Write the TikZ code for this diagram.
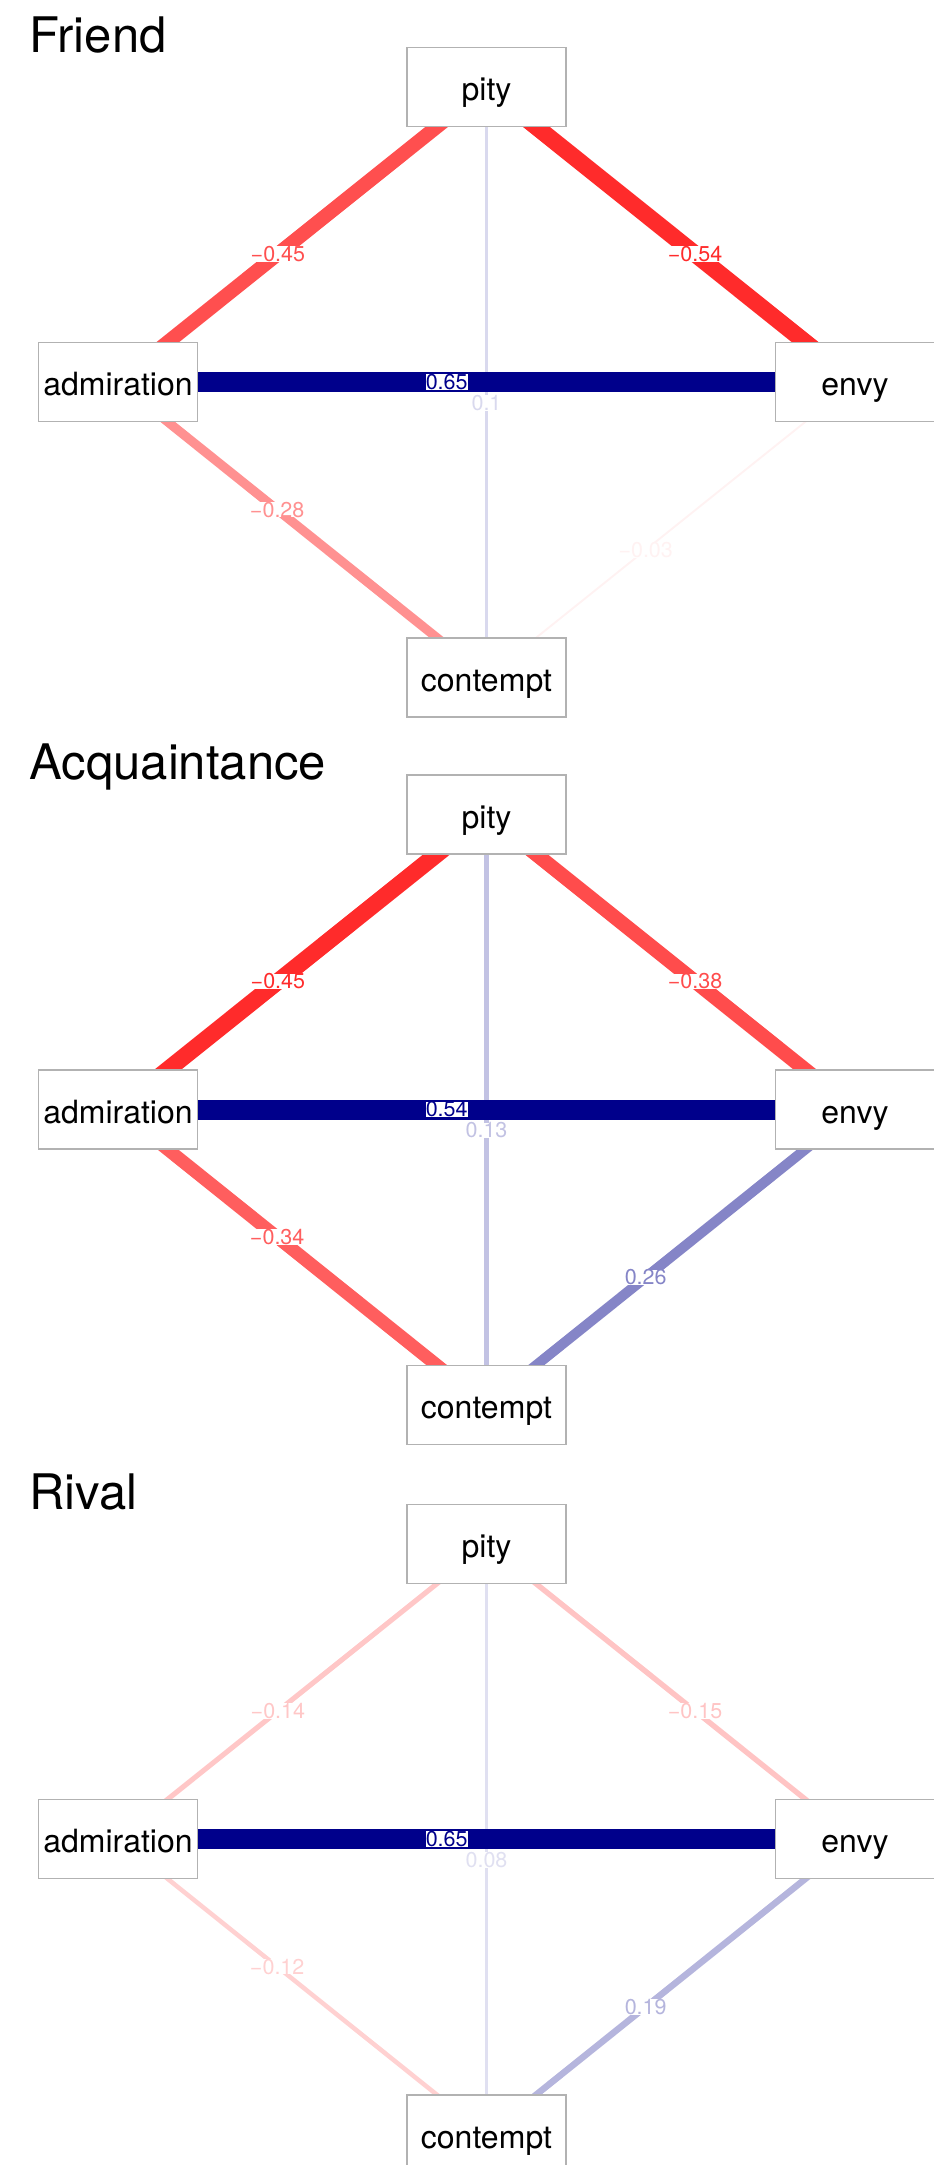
\documentclass[tikz,border=0pt]{standalone}
\usepackage{fontspec}
\setmainfont{TeX Gyre Heros}
\usetikzlibrary{backgrounds}
\definecolor{posblue}{RGB}{0,0,139}
\definecolor{negred}{RGB}{255,0,0}
\definecolor{frame}{RGB}{178,178,178}
\tikzset{
  box/.style={draw=frame,fill=white,line width=0.6pt,minimum width=79.5pt,minimum height=39.5pt,
    inner sep=0pt,font=\fontsize{16}{18}\selectfont,text height=13.5pt,text depth=0pt},
  heading/.style={anchor=base west,inner sep=0pt,font=\fontsize{24.5}{28}\selectfont},
  tie/.style 2 args={draw=#1,line width=#2},
  tag/.style={fill=white,inner sep=0pt,text=#1,font=\fontsize{10.75}{12}\selectfont},
}

\begin{document}
\begin{tikzpicture}[x=0.5pt,y=-0.5pt]
  \useasboundingbox (0,0) rectangle (933,2165);
  % one panel per relation
  \foreach \p/\off/\ttl in {f/0/Friend,a/727.5/Acquaintance,r/1457/Rival}{
    \node[heading] (\p-title) at (29,52+\off) {\ttl};
    \node[box] (\p-pity) at (486.5,87+\off) {pity};
    \node[box] (\p-adm) at (118,382+\off) {admiration};
    \node[box] (\p-envy) at (855,382+\off) {envy};
    \node[box] (\p-con) at (486.5,677.5+\off) {contempt};
  }
  % weighted ties, weakest first
  \begin{scope}[on background layer]
    \foreach \p/\src/\dst/\ecol/\lw/\fr/\lab in {
      f/pity/con/posblue!15/1.95/.535/0.1,
      f/envy/con/negred!5/0.95/.568/−0.03,
      f/adm/con/negred!43/4.6/.432/−0.28,
      f/adm/pity/negred!69/7.1/.434/−0.45,
      f/pity/envy/negred!83/8.4/.566/−0.54,
      f/adm/envy/posblue/10/.446/0.65,
      a/pity/con/posblue!24/2.8/.535/0.13,
      a/envy/con/posblue!48/5.05/.568/0.26,
      a/adm/con/negred!63/6.5/.432/−0.34,
      a/pity/envy/negred!70/7.2/.566/−0.38,
      a/adm/pity/negred!83/8.4/.434/−0.45,
      a/adm/envy/posblue/10/.446/0.54,
      r/pity/con/posblue!12/1.65/.535/0.08,
      r/adm/con/negred!18/2.25/.432/−0.12,
      r/adm/pity/negred!22/2.55/.434/−0.14,
      r/pity/envy/negred!23/2.7/.566/−0.15,
      r/envy/con/posblue!29/3.25/.568/0.19,
      r/adm/envy/posblue/10/.446/0.65}
      \draw[tie={\ecol}{\lw pt}] (\p-\src.center) -- node[tag=\ecol,pos=\fr] {\lab} (\p-\dst.center);
  \end{scope}
\end{tikzpicture}
\end{document}
